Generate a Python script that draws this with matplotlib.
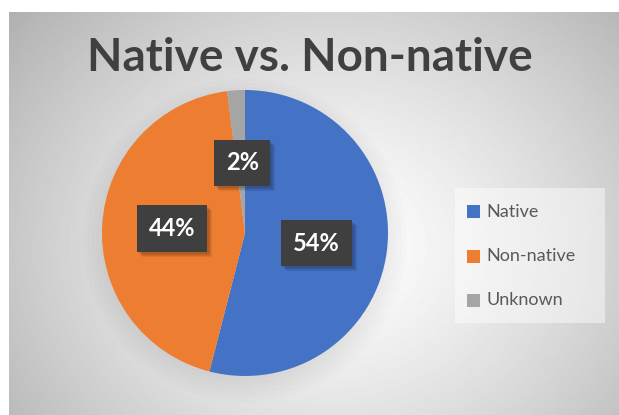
import numpy as np
import matplotlib.pyplot as plt
from matplotlib.patches import Circle, Rectangle
from matplotlib.transforms import IdentityTransform

categories = ['Native', 'Non-native', 'Unknown']
shares = [54, 44, 2]
colors = ['#4472C4', '#ED7D31', '#A5A5A5']
pct_labels = ['54%', '44%', '2%']

plt.rcParams['font.family'] = ['Lato', 'DejaVu Sans']
plt.rcParams['hatch.color'] = '#555555'
plt.rcParams['hatch.linewidth'] = 1.5

fig = plt.figure(figsize=(6.19, 4.15), dpi=100)
fig.patch.set_facecolor('white')

# radial gradient background of the chart area
bg = fig.add_axes([9 / 619, 0, 610 / 619, 403 / 415])
yy, xx = np.mgrid[0:403, 0:610]
d = np.sqrt(((xx - 325) / 370) ** 2 + ((yy - 235) / 320) ** 2)
g = np.clip(1.0 - 0.26 * d ** 1.3, 0, 1)
bg.imshow(g, cmap='gray', vmin=0, vmax=1, aspect='auto', origin='upper',
          extent=[0, 610, 403, 0])
bg.set_xlim(0, 610)
bg.set_ylim(403, 0)
bg.axis('off')

# pie
ax = fig.add_axes([(245 - 143) / 619, 1 - (233 + 143) / 415,
                   286 / 619, 286 / 415])

# faint shadow, mostly below the pie
for i in range(6):
    ax.add_patch(Circle((0.0, -0.05), 0.98 + 0.03 * i, color='black',
                        alpha=0.012, zorder=0, lw=0, clip_on=False))

wedges, _ = ax.pie(shares, colors=colors, startangle=90, counterclock=False,
                   radius=1.0, wedgeprops=dict(linewidth=0))
ax.set_xlim(-1, 1)
ax.set_ylim(-1, 1)
ax.set_aspect('equal')
ax.axis('off')

label_pos = [(0.50, -0.07), (-0.51, 0.03), (-0.02, 0.49)]
texts = []
for (x, y), txt in zip(label_pos, pct_labels):
    t = ax.text(x, y, txt, ha='center', va='center', fontsize=17,
                fontweight='bold', color='white', zorder=4,
                bbox=dict(boxstyle='square,pad=0.5', facecolor='#3f3f3f',
                          edgecolor='#3f3f3f', linewidth=0, hatch='..'))
    texts.append(t)

# soft drop shadow under the label boxes
fig.canvas.draw()
for t in texts:
    bb = t.get_bbox_patch().get_window_extent()
    for k in range(4):
        ax.add_patch(Rectangle((bb.x0 + 2 + k, bb.y0 - 2 - k), bb.width,
                               bb.height, facecolor='black', alpha=0.07,
                               edgecolor='none', zorder=3,
                               transform=IdentityTransform(), clip_on=False))

fig.text(310 / 619, 1 - 58 / 415, 'Native vs. Non-native', ha='center',
         va='center', fontsize=33, fontweight='bold', color='#404040')

# legend
ov = fig.add_axes([0, 0, 1, 1], facecolor='none')
ov.set_xlim(0, 619)
ov.set_ylim(0, 415)
ov.axis('off')
ov.add_patch(Rectangle((455, 415 - 323), 150, 135, facecolor='white',
                       alpha=0.45, edgecolor='none'))
for i, (cat, col) in enumerate(zip(categories, colors)):
    y = 415 - (212 + 44 * i)
    ov.add_patch(Rectangle((467, y - 6.5), 13, 13, facecolor=col,
                           edgecolor='none'))
    ov.text(486, y, cat, ha='left', va='center', fontsize=13,
            color='#595959')

plt.savefig('out.png', dpi=100)
